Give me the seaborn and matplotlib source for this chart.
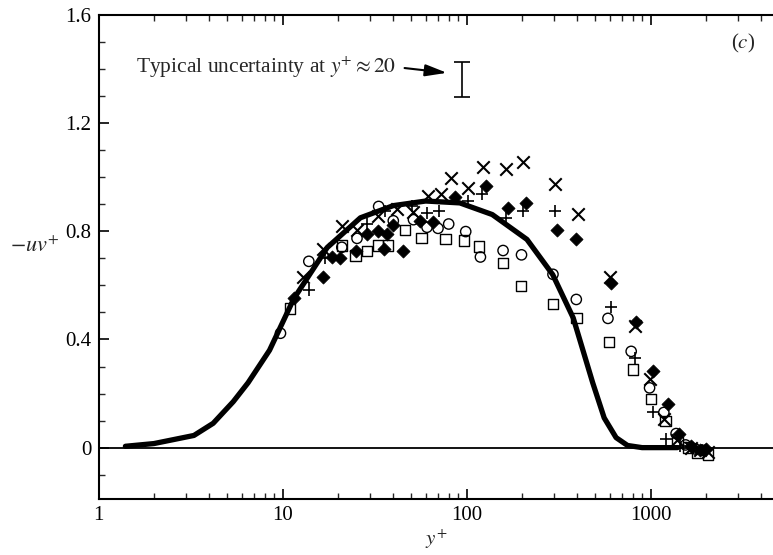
import numpy as np
import pandas as pd
import matplotlib
matplotlib.use("Agg")
import matplotlib.pyplot as plt
import seaborn as sns

# ---- data ----
curve_y = [1.4, 2.0, 3.3, 4.2, 5.4, 6.5, 8.5, 11.5, 17.5, 26.5, 40, 60, 92, 138, 213, 294, 380, 485, 560, 650, 750, 900, 1400]
curve_v = [0.005, 0.015, 0.045, 0.09, 0.17, 0.24, 0.36, 0.55, 0.74, 0.85, 0.895, 0.912, 0.905, 0.862, 0.77, 0.64, 0.48, 0.24, 0.11, 0.037, 0.008, 0.0, 0.0]

circ_y = [9.75, 13.9, 21, 25.4, 33.3, 40, 51.5, 61, 70, 80, 99, 119, 158, 199, 295, 395, 587, 785, 988, 1181, 1377, 1550, 1750, 1950]
circ_v = [0.423, 0.689, 0.741, 0.774, 0.892, 0.839, 0.843, 0.815, 0.811, 0.827, 0.799, 0.705, 0.729, 0.713, 0.641, 0.548, 0.478, 0.356, 0.221, 0.13, 0.052, 0.01, -0.005, -0.01]

sq_y = [11, 21, 24.9, 28.8, 32.9, 37.4, 46.4, 57, 77, 97, 117, 158, 197, 295, 396, 594, 802, 1009, 1206, 1403, 1600, 1800, 2050]
sq_v = [0.515, 0.747, 0.711, 0.727, 0.747, 0.747, 0.806, 0.774, 0.772, 0.766, 0.744, 0.684, 0.598, 0.531, 0.48, 0.39, 0.289, 0.179, 0.099, 0.02, 0.0, -0.02, -0.025]

dia_y = [11.5, 16.6, 18.6, 20.6, 25, 28.8, 33, 35.4, 37, 40, 45, 56, 66, 87, 128, 169, 210, 312, 396, 612, 836, 1035, 1242, 1436, 1650, 1850, 2000]
dia_v = [0.552, 0.631, 0.705, 0.701, 0.729, 0.79, 0.80, 0.735, 0.79, 0.823, 0.729, 0.839, 0.833, 0.927, 0.968, 0.888, 0.903, 0.806, 0.772, 0.61, 0.463, 0.283, 0.163, 0.05, 0.005, -0.01, -0.005]

x_y = [13, 16.7, 21, 25.4, 33, 42, 51.5, 62, 73, 82, 102, 123, 164, 203, 304, 404, 600, 819, 988, 1191, 1400, 1650, 1850, 2050]
x_v = [0.631, 0.735, 0.821, 0.806, 0.858, 0.882, 0.87, 0.931, 0.937, 0.998, 0.961, 1.039, 1.029, 1.057, 0.976, 0.864, 0.631, 0.448, 0.253, 0.106, 0.03, 0.0, -0.01, -0.015]

plus_y = [13.9, 17.1, 28.8, 36, 50.5, 61, 71, 102, 121, 163, 203, 304, 612, 819, 1035, 1217, 1450, 1700, 1900]
plus_v = [0.582, 0.70, 0.827, 0.876, 0.894, 0.867, 0.876, 0.913, 0.937, 0.851, 0.876, 0.876, 0.521, 0.331, 0.13, 0.032, 0.005, 0.0, -0.01]

y_ticks = [0, 0.4, 0.8, 1.2, 1.6]
y_ticklabels = ["0", "0.4", "0.8", "1.2", "1.6"]
x_ticks = [1, 10, 100, 1000]
x_ticklabels = ["1", "10", "100", "1000"]

err_x = 95
err_center = 1.362
err_half = 0.064

# ---- style ----
sns.set_theme(style="white")
plt.rcParams["font.family"] = ["Liberation Serif", "DejaVu Serif"]
plt.rcParams["mathtext.fontset"] = "stix"

fig = plt.figure(figsize=(7.73, 5.55), dpi=100)
ax = fig.add_axes([98.5 / 773, 56 / 555, 1 - 98.5 / 773, (499 - 15) / 555])

ax.axhline(0, color="black", lw=1.3, zorder=1)

df_curve = pd.DataFrame({"y": curve_y, "v": curve_v})
sns.lineplot(data=df_curve, x="y", y="v", ax=ax, color="black", lw=3.8, zorder=2)

ms = 55
sns.scatterplot(x=circ_y, y=circ_v, ax=ax, marker="o", s=ms, facecolor="none", edgecolor="black", linewidth=1.0, zorder=3)
sns.scatterplot(x=sq_y, y=sq_v, ax=ax, marker="s", s=ms, facecolor="none", edgecolor="black", linewidth=1.0, zorder=3)
sns.scatterplot(x=dia_y, y=dia_v, ax=ax, marker="D", s=45, color="black", edgecolor="black", linewidth=0.5, zorder=3)
sns.scatterplot(x=x_y, y=x_v, ax=ax, marker="x", s=80, color="black", linewidth=1.5, zorder=3)
sns.scatterplot(x=plus_y, y=plus_v, ax=ax, marker="+", s=80, color="black", linewidth=1.2, zorder=3)

ax.set_xscale("log")
ax.set_xlim(1, 4630)
ax.set_ylim(-0.19, 1.6)

ax.set_xticks(x_ticks)
ax.set_xticklabels(x_ticklabels)
ax.set_yticks(y_ticks)
ax.set_yticklabels(y_ticklabels)
ax.yaxis.set_minor_locator(matplotlib.ticker.MultipleLocator(0.1))
ax.xaxis.set_minor_locator(matplotlib.ticker.LogLocator(base=10, subs=np.arange(2, 10)))
ax.xaxis.set_minor_formatter(matplotlib.ticker.NullFormatter())

ax.tick_params(axis="both", which="major", direction="in", length=7, width=1.2, labelsize=15, colors="black", pad=5)
ax.tick_params(axis="both", which="minor", direction="in", length=4, width=1.0)
ax.tick_params(axis="x", which="both", top=True, bottom=True)
ax.tick_params(axis="y", which="both", left=True, right=False)

for s in ["left", "bottom", "top"]:
    ax.spines[s].set_visible(True)
    ax.spines[s].set_color("black")
    ax.spines[s].set_linewidth(1.5)
ax.spines["right"].set_visible(False)

ax.set_xlabel(r"$y^{+}$", fontsize=15)
ax.xaxis.set_label_coords(0.5, -0.058)
ax.set_ylabel(r"$-uv^{+}$", fontsize=16, rotation=0)
ax.yaxis.set_label_coords(-0.095, 0.5)

# uncertainty annotation
ax.errorbar([err_x], [err_center], yerr=[err_half], color="black", lw=1.2, capsize=6, capthick=1.2, zorder=4)
ax.text(41.5, 1.405, r"Typical uncertainty at $y^{+} \approx 20$", fontsize=15.5, ha="right", va="center")
ax.annotate("", xy=(81, 1.385), xytext=(44.5, 1.405),
            arrowprops=dict(arrowstyle="-|>,head_length=1.1,head_width=0.3", color="black", lw=1.5))

ax.text(0.955, 0.942, r"($\it{c}$)", transform=ax.transAxes, fontsize=15, ha="center", va="center")

fig.savefig("out.png", dpi=100)
